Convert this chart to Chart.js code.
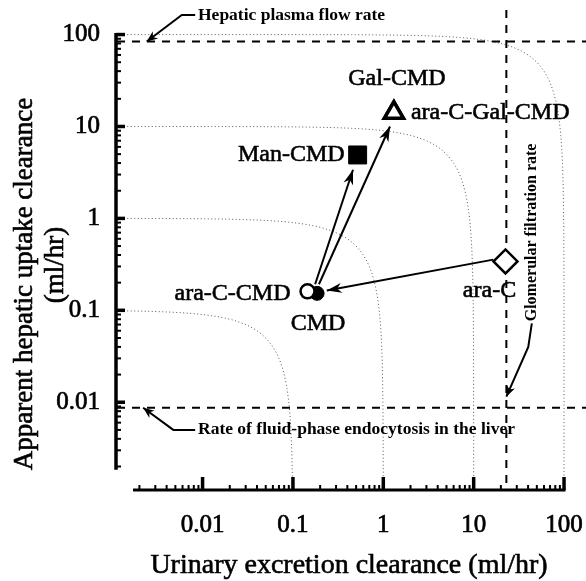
<!DOCTYPE html>
<html>
<head>
<meta charset="utf-8">
<script src="https://cdn.jsdelivr.net/npm/chart.js@4.4.1/dist/chart.umd.min.js"></script>
<style>
  body { margin: 0; background: #fff; }
  canvas { display: block; }
</style>
</head>
<body>
<canvas id="chart" width="586" height="581"></canvas>
<script>
// urinary excretion clearance (x) vs apparent hepatic uptake clearance (y), ml/hr
const compounds = ['CMD', 'ara-C-CMD', 'Man-CMD', 'Gal-CMD', 'ara-C-Gal-CMD', 'ara-C'];
const urinaryCL = [0.185, 0.145, 0.52, 1.31, 1.31, 22.5];
const hepaticCL = [0.153, 0.161, 4.9, 14.1, 14.1, 0.34];

// physiological limits
const plasmaFlow = 84;      // hepatic plasma flow rate
const fluidPhase = 0.0087;  // fluid-phase endocytosis in the liver
const gfr = 23;             // glomerular filtration rate

// total clearance (urinary + hepatic) for the dotted iso-clearance curves
const totalCL = [0.1, 1, 10, 100];

// conversion arrows, [x, y] in ml/hr
const arrowFrom = [[0.176, 0.192], [0.194, 0.192], [16.5, 0.356]];
const arrowTo   = [[0.462, 3.38], [1.185, 10.0], [0.237, 0.164]];

const xTicks = [0.01, 0.1, 1, 10, 100];
const yTicks = [0.01, 0.1, 1, 10, 100];

const xRange = [0.00113, 175];
const yRange = [0.00111, 185];
const xAxisSpan = [0.0017, 100];
const yAxisSpan = [0.00184, 100];

const serif = 'Liberation Serif, Times New Roman, serif';

// marker look per compound
const markerStyle = {
  'CMD':           { style: 'circle',   r: 7,    fill: '#000', bw: 1 },
  'ara-C-CMD':     { style: 'circle',   r: 7,    fill: '#fff', bw: 2.5 },
  'Man-CMD':       { style: 'rect',     r: 12.7, fill: '#000', bw: 1 },
  'Gal-CMD':       { style: 'triangle', r: 11,   fill: '#fff', bw: 3.5 },
  'ara-C-Gal-CMD': { style: 'triangle', r: 11,   fill: '#fff', bw: 3.5 },
  'ara-C':         { style: 'rectRot',  r: 12,   fill: '#fff', bw: 2.5 }
};

// label placement relative to the marker, px
const labelPlace = {
  'CMD':           { dx: 1,   dy: 30,  align: 'center' },
  'ara-C-CMD':     { dx: -17, dy: 2,   align: 'right' },
  'Man-CMD':       { dx: -13, dy: 0,   align: 'right' },
  'Gal-CMD':       { dx: 3,   dy: -34, align: 'center' },
  'ara-C-Gal-CMD': { dx: 17,  dy: 0,   align: 'left' },
  'ara-C':         { dx: -16, dy: 29,  align: 'center' }
};

// curve urinary + hepatic = total, swept by the urinary fraction
function isoCurve(total) {
  const fr = [];
  for (let e = -5.5; e < Math.log10(0.5); e += 0.05) fr.push(Math.pow(10, e));
  const all = fr.concat([0.5], fr.slice().reverse().map(f => 1 - f));
  return all.map(f => ({ x: f * total, y: (1 - f) * total }));
}

const isoSets = totalCL.map(c => ({
  data: isoCurve(c),
  showLine: true,
  pointRadius: 0,
  borderColor: '#555',
  borderWidth: 1,
  borderDash: [1, 2.5],
  order: 3
}));

const limitStyle = { showLine: true, pointRadius: 0, borderColor: '#000', borderWidth: 2, borderDash: [8, 7], order: 2 };
const limitSets = [
  Object.assign({ data: [{ x: xRange[0], y: plasmaFlow }, { x: xRange[1], y: plasmaFlow }] }, limitStyle),
  Object.assign({ data: [{ x: xRange[0], y: fluidPhase }, { x: xRange[1], y: fluidPhase }] }, limitStyle),
  Object.assign({ data: [{ x: gfr, y: yRange[1] }, { x: gfr, y: yRange[0] }] }, limitStyle)
];

const compoundSet = {
  data: compounds.map((n, i) => ({ x: urinaryCL[i], y: hepaticCL[i] })),
  pointStyle: compounds.map(n => markerStyle[n].style),
  pointRadius: compounds.map(n => markerStyle[n].r),
  backgroundColor: compounds.map(n => markerStyle[n].fill),
  borderColor: '#000',
  borderWidth: compounds.map(n => markerStyle[n].bw),
  order: 0
};

function drawArrow(ctx, pts, len, half, lw) {
  ctx.lineWidth = lw;
  ctx.beginPath();
  ctx.moveTo(pts[0][0], pts[0][1]);
  for (let i = 1; i < pts.length; i++) ctx.lineTo(pts[i][0], pts[i][1]);
  ctx.stroke();
  const [x1, y1] = pts[pts.length - 2];
  const [x2, y2] = pts[pts.length - 1];
  const a = Math.atan2(y2 - y1, x2 - x1);
  const c = Math.cos(a), s = Math.sin(a);
  ctx.beginPath();
  ctx.moveTo(x2, y2);
  ctx.lineTo(x2 - len * c + half * s, y2 - len * s - half * c);
  ctx.lineTo(x2 - len * 0.7 * c, y2 - len * 0.7 * s);
  ctx.lineTo(x2 - len * c - half * s, y2 - len * s + half * c);
  ctx.closePath();
  ctx.fill();
}

// filled text with a hairline stroke so it reads as heavy as the print
function heavyText(ctx, str, x, y) {
  ctx.lineWidth = 0.6;
  ctx.fillText(str, x, y);
  ctx.strokeText(str, x, y);
}

const decorations = {
  id: 'decorations',
  afterDatasetsDraw(chart) {
    const { ctx, scales: { x, y }, chartArea } = chart;
    const px = v => x.getPixelForValue(v);
    const py = v => y.getPixelForValue(v);
    ctx.save();
    ctx.fillStyle = '#000';
    ctx.strokeStyle = '#000';
    ctx.lineCap = 'butt';

    // y axis with minor ticks
    const ax = chartArea.left - 1;
    ctx.lineWidth = 3.5;
    ctx.beginPath();
    ctx.moveTo(ax, py(yAxisSpan[1]) - 1.5);
    ctx.lineTo(ax, py(yAxisSpan[0]));
    ctx.stroke();
    for (let e = -3; e <= 2; e++) {
      for (let m = 1; m <= 9; m++) {
        const v = m * Math.pow(10, e);
        if (v < yAxisSpan[0] || v > yAxisSpan[1] * 1.0001) continue;
        ctx.lineWidth = m === 1 ? 3.5 : 2;
        ctx.beginPath();
        ctx.moveTo(ax, py(v));
        ctx.lineTo(ax + (m === 1 ? 9 : 5), py(v));
        ctx.stroke();
      }
    }

    // x axis with minor ticks
    const ay = chartArea.bottom;
    ctx.lineWidth = 3;
    ctx.beginPath();
    ctx.moveTo(px(xAxisSpan[0]), ay);
    ctx.lineTo(px(xAxisSpan[1]) + 1.5, ay);
    ctx.stroke();
    for (let e = -3; e <= 2; e++) {
      for (let m = 1; m <= 9; m++) {
        const v = m * Math.pow(10, e);
        if (v < xAxisSpan[0] || v > xAxisSpan[1] * 1.0001) continue;
        ctx.lineWidth = m === 1 ? 3.5 : 2;
        ctx.beginPath();
        ctx.moveTo(px(v), ay);
        ctx.lineTo(px(v), ay - (m === 1 ? 13 : 5));
        ctx.stroke();
      }
    }

    // conversion arrows
    arrowFrom.forEach((f, i) => {
      const t = arrowTo[i];
      drawArrow(ctx, [[px(f[0]), py(f[1])], [px(t[0]), py(t[1])]], 15, 5, 2);
    });

    // compound labels
    ctx.font = '24px ' + serif;
    ctx.textBaseline = 'middle';
    compounds.forEach((n, i) => {
      const p = labelPlace[n];
      ctx.textAlign = p.align;
      heavyText(ctx, n, px(urinaryCL[i]) + p.dx, py(hepaticCL[i]) + p.dy);
    });

    // limit annotations
    ctx.font = 'bold 17.5px ' + serif;
    ctx.textAlign = 'left';
    drawArrow(ctx, [[px(0.00828), py(163)], [px(0.00589), py(163)], [px(0.00241), py(plasmaFlow)]], 11, 4.5, 2);
    ctx.fillText('Hepatic plasma flow rate', px(0.0089), py(163));
    drawArrow(ctx, [[px(0.00828), py(0.005)], [px(0.00475), py(0.005)], [px(0.0022), py(fluidPhase)]], 11, 4.5, 2);
    ctx.fillText('Rate of fluid-phase endocytosis in the liver', px(0.0089), py(0.005));
    ctx.font = 'bold 16px ' + serif;
    drawArrow(ctx, [[px(44), py(0.072)], [px(40.2), py(0.04)], [px(gfr), py(0.0115)]], 11, 4.5, 2);
    ctx.save();
    ctx.translate(px(44), py(0.076));
    ctx.rotate(-Math.PI / 2);
    ctx.fillText('Glomerular filtration rate', 0, 0);
    ctx.restore();

    // axis titles
    ctx.font = '28px ' + serif;
    ctx.textAlign = 'center';
    heavyText(ctx, 'Urinary excretion clearance (ml/hr)', 349, 566);
    ctx.font = '27px ' + serif;
    ctx.save();
    ctx.translate(25, 284);
    ctx.rotate(-Math.PI / 2);
    heavyText(ctx, 'Apparent hepatic uptake clearance', 0, 0);
    heavyText(ctx, '(ml/hr)', 19, 31);
    ctx.restore();

    ctx.restore();
  }
};

const tickFont = { family: serif, size: 25 };

new Chart(document.getElementById('chart'), {
  type: 'scatter',
  data: { datasets: [compoundSet].concat(limitSets, isoSets) },
  options: {
    responsive: false,
    animation: false,
    layout: { autoPadding: false, padding: { top: 10, right: 0, bottom: 0, left: 0 } },
    plugins: { legend: { display: false }, tooltip: { enabled: false } },
    scales: {
      x: {
        type: 'logarithmic',
        min: xRange[0],
        max: xRange[1],
        grid: { display: false, drawTicks: false },
        border: { display: false },
        afterFit: s => { s.height = 91; s.paddingLeft = 0; s.paddingRight = 0; },
        afterBuildTicks: s => { s.ticks = xTicks.map(v => ({ value: v })); },
        ticks: { callback: v => String(v), font: tickFont, color: '#000', textStrokeColor: '#000', textStrokeWidth: 0.7, padding: 20, maxRotation: 0, autoSkip: false }
      },
      y: {
        type: 'logarithmic',
        min: yRange[0],
        max: yRange[1],
        grid: { display: false, drawTicks: false },
        border: { display: false },
        afterFit: s => { s.width = 117; s.paddingTop = 0; s.paddingBottom = 0; },
        afterBuildTicks: s => { s.ticks = yTicks.map(v => ({ value: v })); },
        ticks: { callback: v => String(v), font: tickFont, color: '#000', textStrokeColor: '#000', textStrokeWidth: 0.7, padding: 17, autoSkip: false }
      }
    }
  },
  plugins: [decorations]
});
</script>
</body>
</html>
